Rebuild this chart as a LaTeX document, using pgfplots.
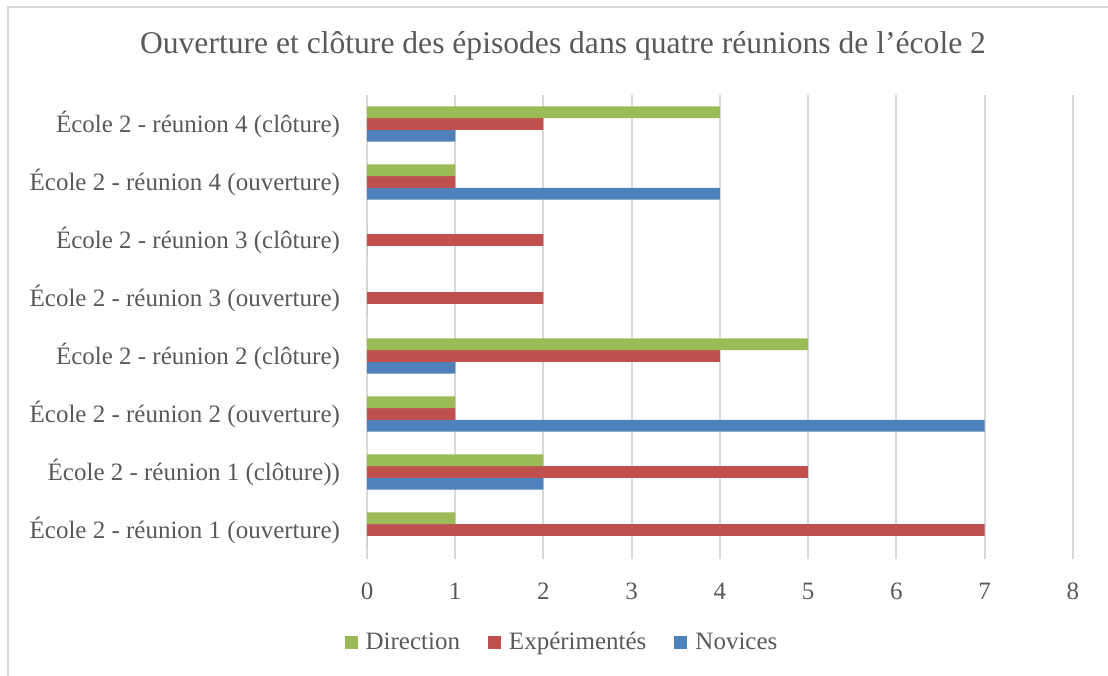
\documentclass[border=0pt]{standalone}
\usepackage{fontspec}
\setmainfont{Liberation Serif}
\usepackage{pgfplots}
\pgfplotsset{compat=1.18}
\definecolor{cN}{HTML}{4F81BD}
\definecolor{cE}{HTML}{C0504D}
\definecolor{cD}{HTML}{9BBB59}
\definecolor{txt}{HTML}{595959}
\definecolor{grd}{HTML}{D9D9D9}
\begin{document}
\begin{tikzpicture}[x=1pt,y=1pt]
\useasboundingbox (0,0) rectangle (554,337.5);
\draw[grd, line width=1pt] (4,-2) -- (4,334) -- (556,334);
\node[txt, font=\fontsize{15.8}{18}\selectfont] at (281.5,314.5) {Ouverture et clôture des épisodes dans quatre réunions de l'école 2};
\begin{axis}[
  at={(183.5pt,58pt)}, anchor=south west,
  scale only axis, width=353pt, height=232pt,
  xmin=0, xmax=8, ymin=-0.5, ymax=7.5,
  xbar=0pt, bar width=5.85pt,
  xtick={0,1,...,8}, ytick={0,1,...,7},
  yticklabels={École 2 - réunion 1 (ouverture), École 2 - réunion 1 (clôture)), École 2 - réunion 2 (ouverture), École 2 - réunion 2 (clôture), École 2 - réunion 3 (ouverture), École 2 - réunion 3 (clôture), École 2 - réunion 4 (ouverture), École 2 - réunion 4 (clôture)},
  /pgf/number format/assume math mode=true,
  ticklabel style={txt, font=\fontsize{12.5}{15}\selectfont},
  xticklabel style={yshift=-8.5pt},
  yticklabel style={xshift=-10pt},
  axis line style={draw=none},
  major tick length=0pt,
  xmajorgrids, major grid style={grd, line width=1pt},
  reverse legend,
  legend style={at={(0.2776,-0.18)}, anchor=center, draw=none, fill=none,
    legend columns=-1, font=\fontsize{12.5}{15}\selectfont, text=txt,
    /tikz/every odd column/.append style={column sep=2pt},
    /tikz/every even column/.append style={column sep=12pt}},
  legend image code/.code={\fill[#1] (0pt,-3pt) rectangle (6.5pt,3.5pt);},
]
\addplot[fill=cN, draw=none] coordinates {(0,0) (2,1) (7,2) (1,3) (0,4) (0,5) (4,6) (1,7)};
\addplot[fill=cE, draw=none] coordinates {(7,0) (5,1) (1,2) (4,3) (2,4) (2,5) (1,6) (2,7)};
\addplot[fill=cD, draw=none] coordinates {(1,0) (2,1) (1,2) (5,3) (0,4) (0,5) (1,6) (4,7)};
\legend{Novices, Expérimentés, Direction}
\end{axis}
\end{tikzpicture}
\end{document}
